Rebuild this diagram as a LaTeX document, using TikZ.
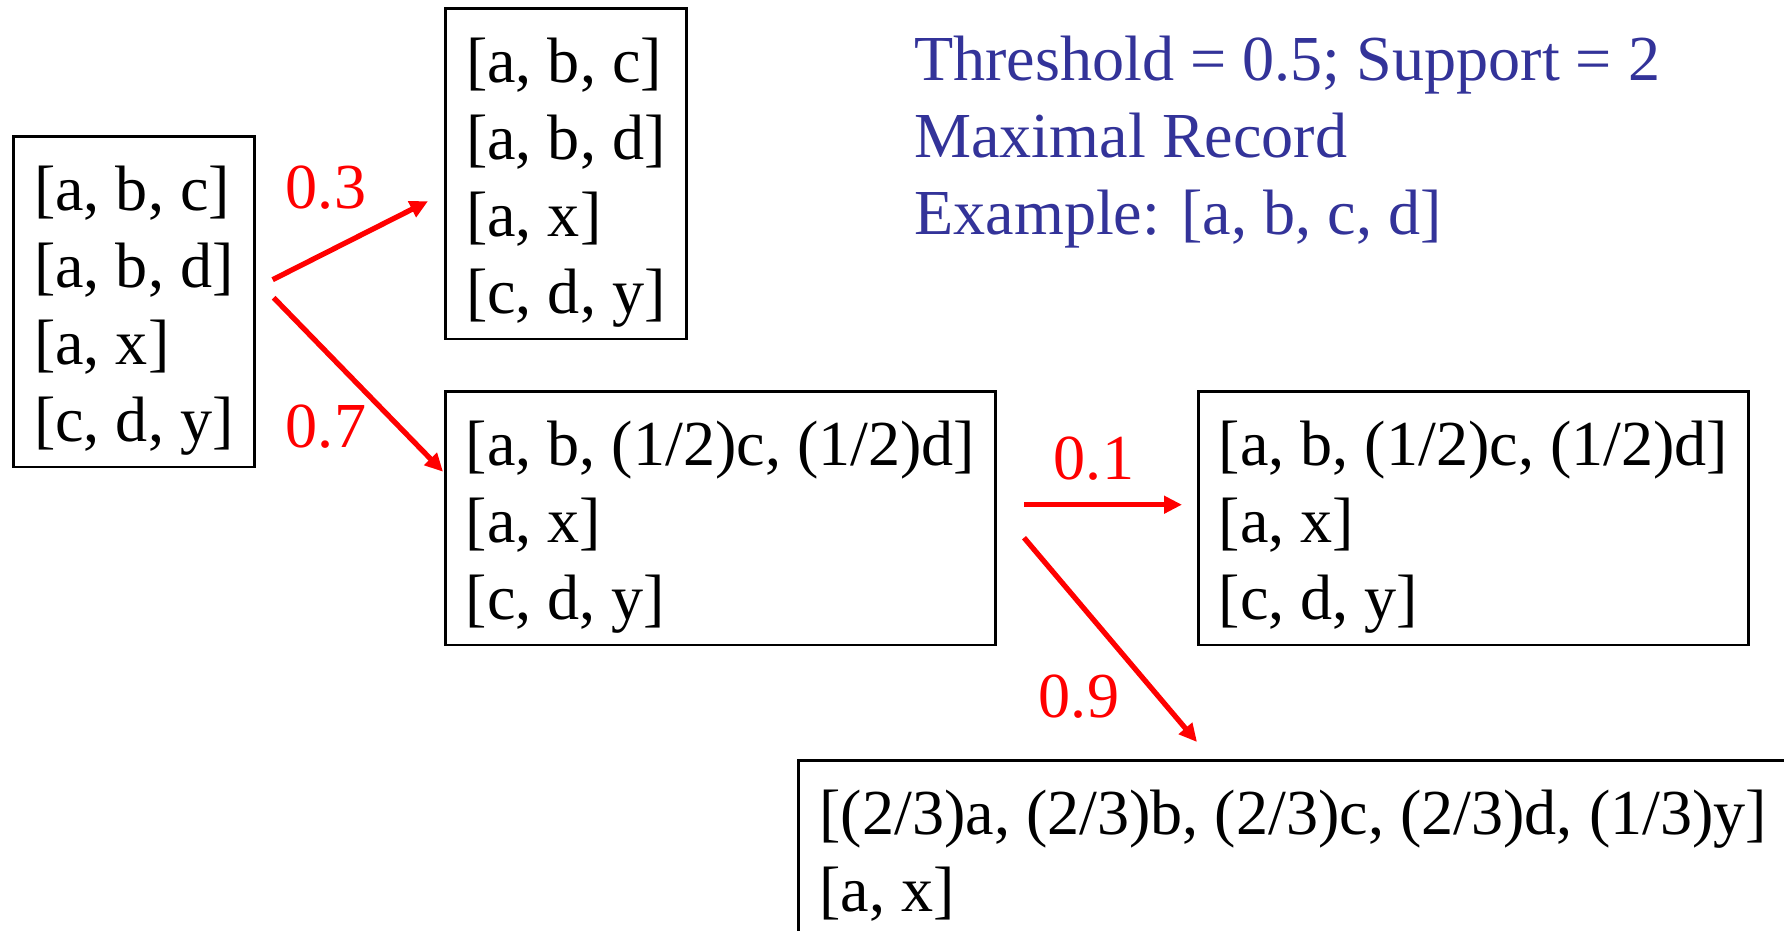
\documentclass[tikz,border=0pt]{standalone}
\usepackage{fontspec}
\setmainfont{Liberation Serif}
\usetikzlibrary{arrows.meta,calc}
\definecolor{noteblue}{RGB}{51,51,153}
\newcommand\fl{\rule{0pt}{12.6mm}}
\tikzset{
  >={Triangle[length=3.6mm,width=3.4mm]},
  box/.style={draw,line width=1.5pt,anchor=north west,align=left,minimum width=#1,
    inner xsep=4.1mm,inner ysep=2.3mm,font=\fontsize{36.5}{43.8}\selectfont},
  wt/.style={text=red,inner sep=0pt,font=\fontsize{36.5}{43.8}\selectfont},
  arr/.style={->,red,line width=3pt},
}

\begin{document}
\begin{tikzpicture}
\useasboundingbox (0,0) rectangle (35.68,-18.62);
\node[box=4.82cm] (src) at (0.24,-2.70) {\fl{[a, b, c]}\\ {[a, b, d]}\\ {[a, x]}\\ {[c, d, y]}};
\node[box=4.82cm] (top) at (8.88,-0.14) {\fl{[a, b, c]}\\ {[a, b, d]}\\ {[a, x]}\\ {[c, d, y]}};
\node[box=11cm] (mid) at (8.88,-7.80) {\fl{[a, b, (1/2)c, (1/2)d]}\\ {[a, x]}\\ {[c, d, y]}};
\node[box=11cm] (rgt) at (23.94,-7.80) {\fl{[a, b, (1/2)c, (1/2)d]}\\ {[a, x]}\\ {[c, d, y]}};
\node[box=19.8cm] (bot) at (15.94,-15.18) {\fl{[(2/3)a, (2/3)b, (2/3)c, (2/3)d, (1/3)y]}\\ {[a, x]}};
\node[anchor=north west,align=left,inner sep=0pt,text=noteblue,font=\fontsize{36.5}{43.8}\selectfont]
  (note) at (18.28,-0.34) {\fl Threshold = 0.5; Support = 2\\ Maximal Record\\ {Example: [a, b, c, d]}};
\node[wt] (w03) at (6.52,-3.76) {0.3}; \node[wt] (w07) at (6.52,-8.54) {0.7};
\node[wt] (w01) at (21.88,-9.18) {0.1}; \node[wt] (w09) at (21.58,-13.94) {0.9};
\draw[arr] ($(src.east)+(0.34,0.44)$) -- ($(top.west)+(-0.32,-0.55)$);
\draw[arr] ($(src.east)+(0.36,0.08)$) -- ($(mid.west)+(-0.02,0.93)$);
\draw[arr] ($(mid.east)+(0.54,0.27)$) -- ($(rgt.west)+(-0.30,0.27)$);
\draw[arr] ($(mid.east)+(0.54,-0.39)$) -- ($(bot.north west)+(8.0,0.34)$);
\end{tikzpicture}
\end{document}
